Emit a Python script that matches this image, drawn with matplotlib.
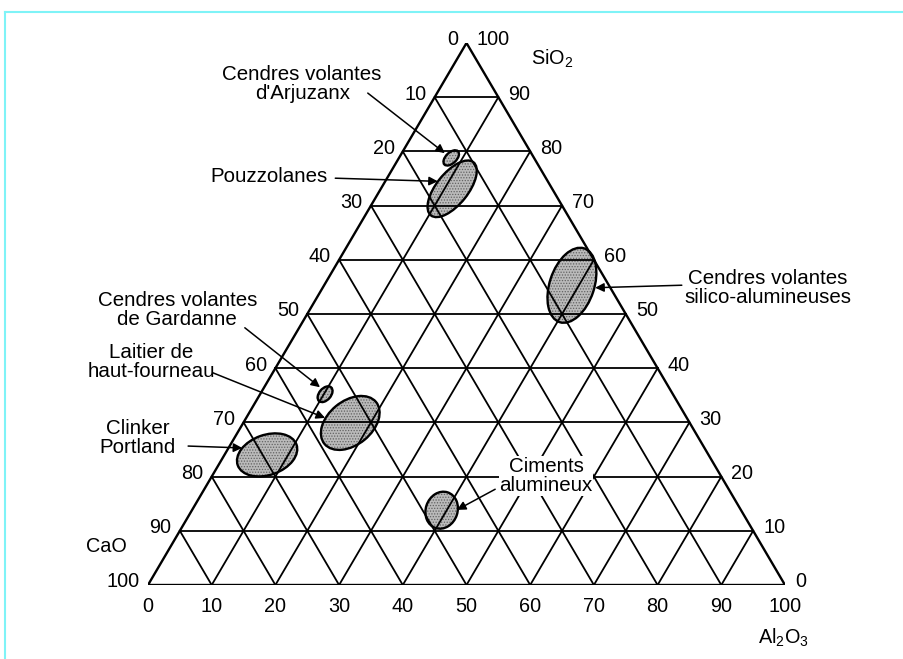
import numpy as np
import matplotlib
matplotlib.use('Agg')
import matplotlib.pyplot as plt
from matplotlib.patches import Ellipse
from matplotlib.lines import Line2D

plt.rcParams['font.family'] = ['Liberation Sans', 'DejaVu Sans']
plt.rcParams['mathtext.default'] = 'regular'
plt.rcParams['hatch.linewidth'] = 0.6

# ternary ticks (percent)
ticks = [0, 10, 20, 30, 40, 50, 60, 70, 80, 90, 100]

# zones : label, SiO2, Al2O3 (centre, %), long axis, short axis (%), tilt (deg)
zone_names = ["Cendres volantes\nd'Arjuzanx", 'Pouzzolanes',
              'Cendres volantes\nsilico-alumineuses',
              'Cendres volantes\nde Gardanne', 'Laitier de\nhaut-fourneau',
              'Clinker\nPortland', 'Ciments\nalumineux']
zone_sio2  = [78.8, 73.1, 55.3, 35.2, 29.9, 24.0, 13.8]
zone_al2o3 = [ 8.2, 11.2, 38.9, 10.2, 16.8,  6.7, 39.2]
zone_long  = [ 3.0, 10.8, 12.4,  2.9, 10.5,  9.8,  6.0]
zone_short = [ 1.7,  5.0,  7.0,  1.85, 7.0,  6.4,  5.0]
zone_tilt  = [ 45,   52,   72,   50,   40,   20,   72]

# label layout (plot units): text centre, arrow tail, arrow tip
lab_xy  = [(24.2, 80.0), (19.0, 65.2), (97.3, 47.4), (4.6, 43.9),
           (0.5, 35.6), (-1.6, 23.5), (62.5, 17.4)]
tail_xy = [(34.5, 78.6), (29.4, 65.0), (83.8, 47.9), (15.2, 41.1),
           (10.2, 33.9), (6.3, 22.2), (54.5, 15.3)]
tip_xy  = [(46.6, 69.0), (45.5, 64.5), (70.2, 47.5), (27.0, 31.6),
           (27.8, 26.7), (14.8, 21.9), (48.5, 12.0)]

h3 = np.sqrt(3)/2.

def tern(si, al):
    # SiO2 at apex, Al2O3 at bottom right, CaO at bottom left
    si = np.asarray(si, float)
    al = np.asarray(al, float)
    return al + si/2., si*h3

fig = plt.figure(figsize=(9.04, 6.59), dpi=100)
ax = fig.add_axes([148/904., 74/659., 637/904., 542/659.])
ax.set_xlim(0, 100)
ax.set_ylim(0, 100*h3)
ax.axis('off')

# grid
lw = 1.3
for t in ticks[1:-1]:
    # constant SiO2
    x, y = tern([t, t], [0, 100-t])
    ax.plot(x, y, color='black', lw=lw, zorder=2)
    # constant Al2O3
    x, y = tern([0, 100-t], [t, t])
    ax.plot(x, y, color='black', lw=lw, zorder=2)
    # constant CaO
    x, y = tern([0, 100-t], [100-t, 0])
    ax.plot(x, y, color='black', lw=lw, zorder=2)
x, y = tern([0, 0, 100, 0], [0, 100, 0, 0])
ax.plot(x, y, color='black', lw=1.7, zorder=2, solid_joinstyle='miter')

fs = 14.3
# CaO on left edge, SiO2 on right edge, Al2O3 on base
for t in ticks:
    x, y = tern(100-t, 0)
    ax.text(x-1.3, y+0.5, str(t), ha='right', va='center', fontsize=fs)
    x, y = tern(t, 100-t)
    ax.text(x+1.6, y+0.5, str(t), ha='left', va='center', fontsize=fs)
    x, y = tern(0, t)
    ax.text(x, y-3.4, str(t), ha='center', va='center', fontsize=fs)

ax.text(63.4, 84.0, 'SiO$_2$', ha='center', va='center', fontsize=fs)
ax.text(-6.6, 6.1, 'CaO', ha='center', va='center', fontsize=fs)
ax.text(99.7, -8.4, 'Al$_2$O$_3$', ha='center', va='center', fontsize=fs)

# zones
for i in range(len(zone_names)):
    cx, cy = tern(zone_sio2[i], zone_al2o3[i])
    ax.add_patch(Ellipse((cx, cy), zone_long[i], zone_short[i],
                         angle=zone_tilt[i], facecolor='#bababa',
                         edgecolor='#626262', hatch='......', lw=0,
                         zorder=1))
    ax.add_patch(Ellipse((cx, cy), zone_long[i], zone_short[i],
                         angle=zone_tilt[i], facecolor='none',
                         edgecolor='black', lw=1.7, zorder=3))
    ax.annotate('', xy=tip_xy[i], xytext=tail_xy[i],
                arrowprops=dict(arrowstyle='-|>', color='black', lw=1.1,
                                mutation_scale=13, shrinkA=0, shrinkB=0),
                annotation_clip=False, zorder=5)
    ax.text(lab_xy[i][0], lab_xy[i][1], zone_names[i], ha='center',
            va='center', fontsize=14.8, linespacing=1.0, zorder=4,
            bbox=dict(facecolor='white', edgecolor='none', pad=0.5))

# cyan page frame
fig.add_artist(Line2D([5/904., 1], [647/659., 647/659.],
                      transform=fig.transFigure, color='#7ff3f7', lw=1.5))
fig.add_artist(Line2D([5/904., 5/904.], [0, 647/659.],
                      transform=fig.transFigure, color='#7ff3f7', lw=1.5))

plt.savefig('out.png', dpi=100)
plt.close()
